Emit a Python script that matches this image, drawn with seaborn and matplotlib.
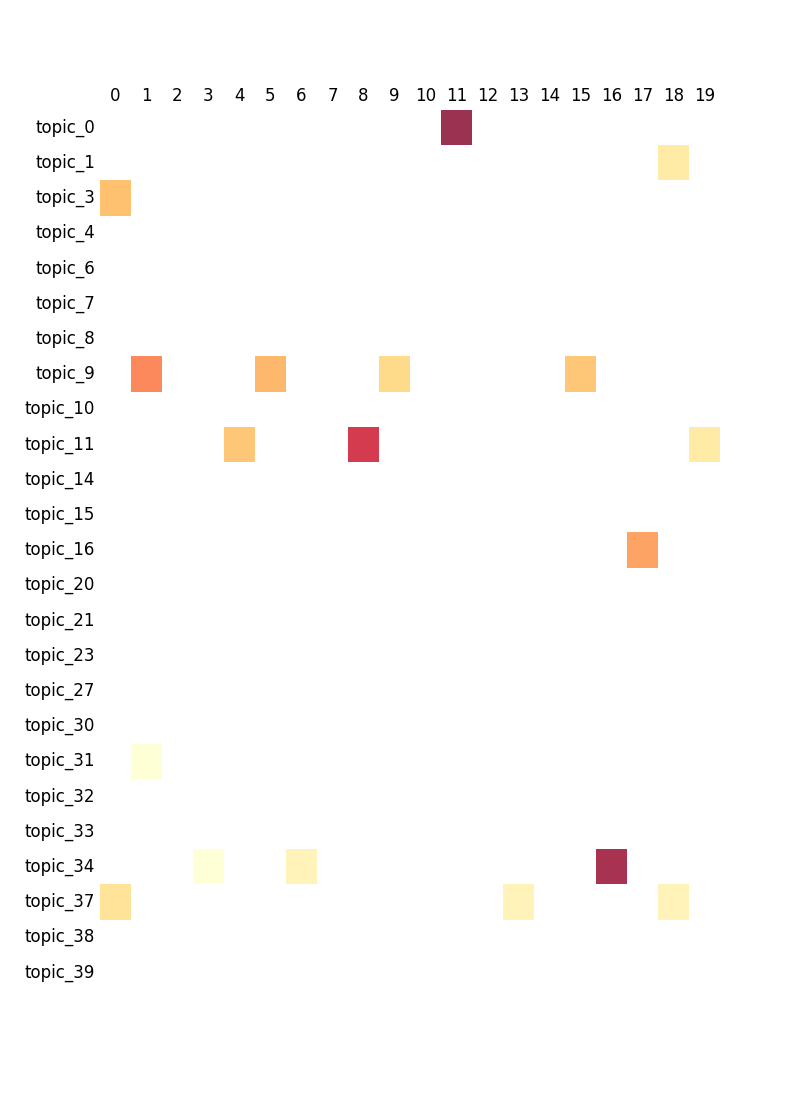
import numpy as np
import pandas as pd
import matplotlib
matplotlib.use("Agg")
import matplotlib.pyplot as plt
import seaborn as sns

topics = ["topic_0", "topic_1", "topic_3", "topic_4", "topic_6", "topic_7", "topic_8",
          "topic_9", "topic_10", "topic_11", "topic_14", "topic_15", "topic_16",
          "topic_20", "topic_21", "topic_23", "topic_27", "topic_30", "topic_31",
          "topic_32", "topic_33", "topic_34", "topic_37", "topic_38", "topic_39"]
columns = list(range(20))

# (topic, column, value) for non-empty cells
cell_topics = ["topic_0", "topic_1", "topic_3",
               "topic_9", "topic_9", "topic_9", "topic_9",
               "topic_11", "topic_11", "topic_11",
               "topic_16", "topic_31",
               "topic_34", "topic_34", "topic_34",
               "topic_37", "topic_37", "topic_37"]
cell_cols = [11, 18, 0,
             1, 5, 9, 15,
             4, 8, 19,
             17, 1,
             3, 6, 16,
             0, 13, 18]
cell_vals = [0.90, 0.24, 0.40,
             0.55, 0.43, 0.32, 0.38,
             0.38, 0.76, 0.24,
             0.50, 0.10,
             0.10, 0.18, 0.87,
             0.28, 0.18, 0.18]

df = pd.DataFrame(np.nan, index=topics, columns=columns)
for t, c, v in zip(cell_topics, cell_cols, cell_vals):
    df.loc[t, c] = v

fig = plt.figure(figsize=(8, 11), dpi=100)
ax = fig.add_axes([0.125, 0.1, 0.775, 0.8])
sns.heatmap(df, cmap="YlOrRd", alpha=0.8, cbar=False, ax=ax,
            vmin=min(cell_vals), vmax=max(cell_vals))
ax.xaxis.tick_top()
ax.tick_params(length=0, labelsize=12)
ax.set_xticklabels([str(c) for c in columns], rotation=0)
ax.set_yticklabels(topics, rotation=0)
ax.set_xlabel("")
ax.set_ylabel("")
fig.savefig("out.png", dpi=100)
